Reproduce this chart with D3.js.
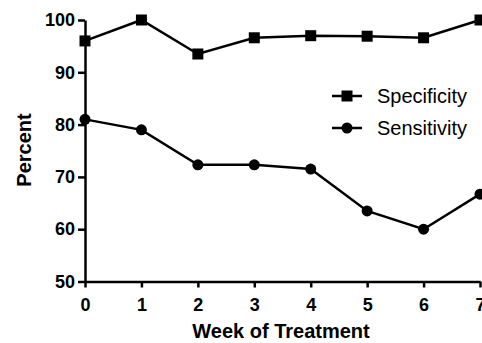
<!DOCTYPE html>
<html>
<head>
<meta charset="utf-8">
<script src="https://d3js.org/d3.v7.min.js"></script>
<style>
  body { margin: 0; background: #fff; }
  .axis path, .axis line { stroke: #000; stroke-width: 2.5px; }
  .axis text { font-family: "Liberation Sans", Arial, sans-serif; font-weight: bold; font-size: 18px; fill: #000; }
  .title { font-family: "Liberation Sans", Arial, sans-serif; font-weight: bold; font-size: 20px; }
  .legend text { font-family: "Liberation Sans", Arial, sans-serif; font-size: 20px; }
</style>
</head>
<body>
<script>
// data
var weeks = [0, 1, 2, 3, 4, 5, 6, 7];
var specificity = [96.0, 100, 93.5, 96.6, 97.0, 96.9, 96.6, 100];
var sensitivity = [81.0, 79.0, 72.3, 72.3, 71.5, 63.5, 60.0, 66.7];
var yTicks = [50, 60, 70, 80, 90, 100];
var seriesNames = ["Specificity", "Sensitivity"];

var width = 482, height = 343;

var svg = d3.select("body").append("svg")
  .attr("width", width)
  .attr("height", height);

var x = d3.scaleLinear().domain([0, 7]).range([85, 480]);
var y = d3.scaleLinear().domain([50, 100]).range([281.5, 20]);

// axes
svg.append("g")
  .attr("class", "axis")
  .attr("transform", "translate(0," + y(50) + ")")
  .call(d3.axisBottom(x).tickValues(weeks).tickFormat(d3.format("d"))
    .tickSize(6).tickSizeOuter(0).tickPadding(11));

svg.append("g")
  .attr("class", "axis")
  .attr("transform", "translate(" + x(0) + ",0)")
  .call(d3.axisLeft(y).tickValues(yTicks).tickFormat(d3.format("d"))
    .tickSize(7).tickSizeOuter(0).tickPadding(3));

// lines
var line = d3.line()
  .x(function(d, i) { return x(weeks[i]); })
  .y(function(d) { return y(d); });

svg.append("path")
  .datum(sensitivity)
  .attr("fill", "none")
  .attr("stroke", "#000")
  .attr("stroke-width", 2.5)
  .attr("d", line);

svg.append("path")
  .datum(specificity)
  .attr("fill", "none")
  .attr("stroke", "#000")
  .attr("stroke-width", 2.5)
  .attr("d", line);

// markers
svg.selectAll(".sq")
  .data(specificity)
  .enter().append("rect")
  .attr("x", function(d, i) { return x(weeks[i]) - 5.5; })
  .attr("y", function(d) { return y(d) - 5.5; })
  .attr("width", 11)
  .attr("height", 11)
  .attr("fill", "#000");

svg.selectAll(".dot")
  .data(sensitivity)
  .enter().append("circle")
  .attr("cx", function(d, i) { return x(weeks[i]); })
  .attr("cy", function(d) { return y(d); })
  .attr("r", 5.5)
  .attr("fill", "#000");

// axis titles
svg.append("text")
  .attr("class", "title")
  .attr("text-anchor", "middle")
  .attr("x", 281)
  .attr("y", 338)
  .text("Week of Treatment");

svg.append("text")
  .attr("class", "title")
  .attr("text-anchor", "middle")
  .attr("transform", "translate(31,150) rotate(-90)")
  .text("Percent");

// legend
var legend = svg.append("g").attr("class", "legend");
seriesNames.forEach(function(name, i) {
  var ly = 96 + i * 32;
  legend.append("line")
    .attr("x1", 332).attr("x2", 362)
    .attr("y1", ly).attr("y2", ly)
    .attr("stroke", "#000").attr("stroke-width", 2.5);
  if (i === 0) {
    legend.append("rect")
      .attr("x", 341.5).attr("y", ly - 5.5)
      .attr("width", 11).attr("height", 11)
      .attr("fill", "#000");
  } else {
    legend.append("circle")
      .attr("cx", 347).attr("cy", ly).attr("r", 5.5)
      .attr("fill", "#000");
  }
  legend.append("text")
    .attr("x", 377)
    .attr("y", ly + 7)
    .text(name);
});
</script>
</body>
</html>
